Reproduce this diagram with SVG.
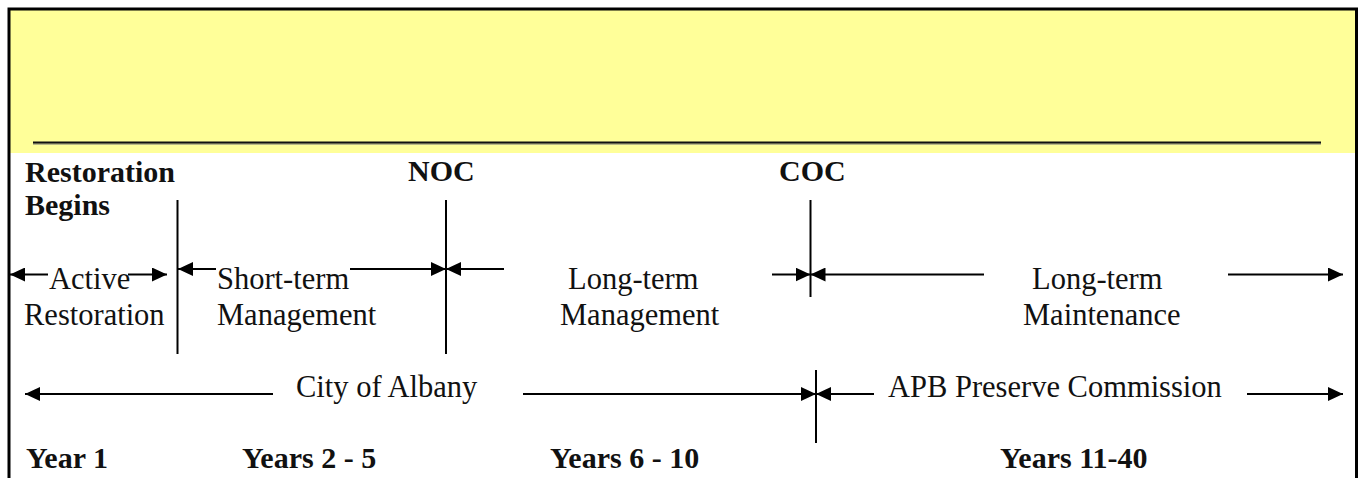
<svg xmlns="http://www.w3.org/2000/svg" width="1361" height="478" viewBox="0 0 1361 478">
<style>
.r{font-family:"Liberation Serif",serif;font-size:30.5px;fill:#111}
.b{font-family:"Liberation Serif",serif;font-size:30px;font-weight:bold;fill:#111}
.c{stroke:#000;stroke-width:2;fill:none}
.a{marker-end:url(#ah)}
.v{stroke:#000;stroke-width:2}
</style>
<defs>
<marker id="ah" markerUnits="userSpaceOnUse" markerWidth="15" markerHeight="14" refX="15" refY="7" orient="auto">
<path d="M0,0 L15,7 L0,14 Z" fill="#000"/>
</marker>
</defs>
<rect x="0" y="0" width="1361" height="478" fill="#fff"/>
<rect x="10" y="10" width="1345" height="143" fill="#ffff99"/>
<path d="M9,478 V9 H1356.5 V478" fill="none" stroke="#000" stroke-width="3"/>
<line x1="33" y1="144" x2="1321" y2="144" stroke="#777" stroke-width="1"/>
<line x1="33" y1="142.5" x2="1321" y2="142.5" stroke="#111" stroke-width="2"/>

<g id="milestones">
<g id="restoration-begins"><text class="b" x="25" y="182">Restoration</text><text class="b" x="25" y="215">Begins</text><line class="v" x1="177.5" y1="200" x2="177.5" y2="354"/></g>
<g id="noc"><text class="b" x="408" y="181">NOC</text><line class="v" x1="446" y1="200" x2="446" y2="354"/></g>
<g id="coc"><text class="b" x="779" y="181">COC</text><line class="v" x1="810.5" y1="200" x2="810.5" y2="297"/></g>
<g id="handover"><line class="v" x1="816" y1="370" x2="816" y2="443"/></g>
</g>

<g id="phases">
<g id="active-restoration"><text class="r" x="49" y="289">Active</text><text class="r" x="24" y="325">Restoration</text></g>
<g id="short-term"><text class="r" x="217" y="289">Short-term</text><text class="r" x="217" y="325">Management</text></g>
<g id="long-term-mgmt"><text class="r" x="568" y="289">Long-term</text><text class="r" x="560" y="325">Management</text></g>
<g id="long-term-maint"><text class="r" x="1032" y="289">Long-term</text><text class="r" x="1023" y="325">Maintenance</text></g>
<g id="city"><text class="r" x="296" y="397">City of Albany</text></g>
<g id="apb"><text class="r" x="888" y="397">APB Preserve Commission</text></g>
</g>

<g id="years">
<g id="y1"><text class="b" x="26" y="468">Year 1</text></g>
<g id="y2-5"><text class="b" x="242" y="468">Years 2 - 5</text></g>
<g id="y6-10"><text class="b" x="550" y="468">Years 6 - 10</text></g>
<g id="y11-40"><text class="b" x="1000" y="468">Years 11-40</text></g>
</g>

<g id="connectors">
<line class="c a" x1="48" y1="274.5" x2="10" y2="274.5"/>
<line class="c a" x1="128" y1="274.5" x2="167" y2="274.5"/>
<line class="c a" x1="216" y1="269" x2="178" y2="269"/>
<line class="c a" x1="350" y1="269" x2="446" y2="269"/>
<line class="c a" x1="504" y1="269" x2="446" y2="269"/>
<line class="c a" x1="772" y1="274.5" x2="810.5" y2="274.5"/>
<line class="c a" x1="984" y1="274.5" x2="810.5" y2="274.5"/>
<line class="c a" x1="1228" y1="274.5" x2="1343" y2="274.5"/>
<line class="c a" x1="273" y1="394" x2="25" y2="394"/>
<line class="c a" x1="523" y1="394" x2="816" y2="394"/>
<line class="c a" x1="874" y1="394" x2="816" y2="394"/>
<line class="c a" x1="1247" y1="394" x2="1343" y2="394"/>
</g>
</svg>
